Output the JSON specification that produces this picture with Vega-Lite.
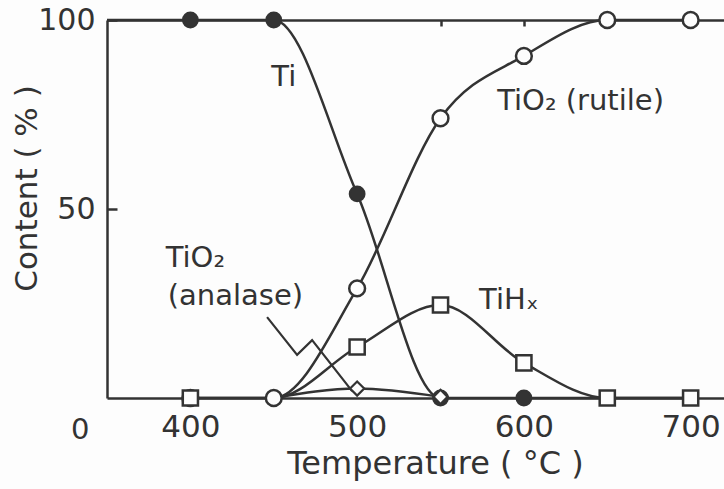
{
  "$schema": "https://vega.github.io/schema/vega-lite/v6.json",
  "autosize": "none",
  "width": 617,
  "height": 378,
  "padding": {"left": 107, "top": 20, "right": 0, "bottom": 91},
  "background": "#fdfdfd",
  "config": {
    "view": {"stroke": null},
    "axis": {"domainColor": "#333", "domainWidth": 2.5, "tickColor": "#333", "tickWidth": 2.5, "labelColor": "#333", "titleColor": "#333", "labelFont": "DejaVu Sans", "titleFont": "DejaVu Sans", "grid": false}
  },
  "resolve": {"axis": {"x": "independent"}},
  "datasets": {
    "series": [
      {"series": "Ti", "t": 350, "c": 100},
      {"series": "Ti", "t": 400, "c": 100},
      {"series": "Ti", "t": 450, "c": 100},
      {"series": "Ti", "t": 500, "c": 54},
      {"series": "Ti", "t": 550, "c": 0},
      {"series": "Ti", "t": 600, "c": 0},
      {"series": "Ti", "t": 650, "c": 0},
      {"series": "Ti", "t": 700, "c": 0},
      {"series": "rutile", "t": 400, "c": 0},
      {"series": "rutile", "t": 450, "c": 0},
      {"series": "rutile", "t": 500, "c": 29},
      {"series": "rutile", "t": 550, "c": 74},
      {"series": "rutile", "t": 600, "c": 90.5},
      {"series": "rutile", "t": 650, "c": 100},
      {"series": "rutile", "t": 700, "c": 100},
      {"series": "TiHx", "t": 400, "c": 0},
      {"series": "TiHx", "t": 450, "c": 0},
      {"series": "TiHx", "t": 500, "c": 13.5},
      {"series": "TiHx", "t": 550, "c": 24.6},
      {"series": "TiHx", "t": 600, "c": 9.3},
      {"series": "TiHx", "t": 650, "c": 0},
      {"series": "TiHx", "t": 700, "c": 0},
      {"series": "anatase", "t": 450, "c": 0},
      {"series": "anatase", "t": 500, "c": 2.5},
      {"series": "anatase", "t": 550, "c": 0.3}
    ],
    "pointer": [
      {"t": 446, "c": 21.4, "o": 1},
      {"t": 464, "c": 11.4, "o": 2},
      {"t": 473, "c": 15.3, "o": 3},
      {"t": 497, "c": 1.8, "o": 4}
    ],
    "labels": [
      {"text": "Ti", "t": 456, "c": 85},
      {"text": "TiO₂ (rutile)", "t": 634, "c": 78.5},
      {"text": "TiHₓ", "t": 591, "c": 26},
      {"text": "TiO₂", "t": 403, "c": 37},
      {"text": "(analase)", "t": 427, "c": 27},
      {"text": "0", "t": 334, "c": -8.5}
    ]
  },
  "layer": [
    {
      "data": {"name": "series"},
      "mark": {"type": "line", "interpolate": "monotone", "color": "#333", "strokeWidth": 2.5},
      "encoding": {
        "x": {"field": "t", "type": "quantitative", "scale": {"domain": [350, 720], "nice": false, "zero": false},
          "axis": {"orient": "bottom", "values": [400, 500, 600, 700], "ticks": false, "labelFontSize": 31, "labelPadding": 14, "title": "Temperature ( °C )", "titleFontSize": 32, "titleFontWeight": "normal", "titlePadding": 6, "titleX": 328}},
        "y": {"field": "c", "type": "quantitative", "scale": {"domain": [0, 100], "nice": false},
          "axis": {"values": [50, 100], "tickSize": -10, "labelFontSize": 30, "labelPadding": 22, "title": "Content ( % )", "titleFontSize": 31, "titleFontWeight": "normal", "titlePadding": -6, "titleY": 168}},
        "detail": {"field": "series"}
      }
    },
    {
      "data": {"name": "pointer"},
      "mark": {"type": "line", "color": "#333", "strokeWidth": 2.2},
      "encoding": {
        "x": {"field": "t", "type": "quantitative", "axis": null},
        "y": {"field": "c", "type": "quantitative"},
        "order": {"field": "o"}
      }
    },
    {
      "data": {"name": "series"},
      "transform": [{"filter": "datum.series === 'rutile'"}],
      "mark": {"type": "point", "shape": "circle", "filled": true, "fill": "#fdfdfd", "stroke": "#333", "strokeWidth": 2.5, "size": 250, "opacity": 1},
      "encoding": {"x": {"field": "t", "type": "quantitative", "axis": null}, "y": {"field": "c", "type": "quantitative"}}
    },
    {
      "data": {"name": "series"},
      "transform": [{"filter": "datum.series === 'TiHx' && datum.t !== 450"}],
      "mark": {"type": "point", "shape": "square", "filled": true, "fill": "#fdfdfd", "stroke": "#333", "strokeWidth": 2.5, "size": 230, "opacity": 1},
      "encoding": {"x": {"field": "t", "type": "quantitative", "axis": null}, "y": {"field": "c", "type": "quantitative"}}
    },
    {
      "data": {"name": "series"},
      "transform": [{"filter": "datum.series === 'Ti' && datum.t >= 400 && datum.t <= 600"}],
      "mark": {"type": "point", "shape": "circle", "filled": true, "fill": "#333", "stroke": "#333", "size": 220, "opacity": 1},
      "encoding": {"x": {"field": "t", "type": "quantitative", "axis": null}, "y": {"field": "c", "type": "quantitative"}}
    },
    {
      "data": {"name": "series"},
      "transform": [{"filter": "datum.series === 'anatase' && datum.t !== 450"}],
      "mark": {"type": "point", "shape": "diamond", "filled": true, "fill": "#fdfdfd", "stroke": "#333", "strokeWidth": 2.2, "size": 200, "opacity": 1},
      "encoding": {"x": {"field": "t", "type": "quantitative", "axis": null}, "y": {"field": "c", "type": "quantitative"}}
    },
    {
      "data": {"name": "labels"},
      "mark": {"type": "text", "font": "DejaVu Sans", "fontSize": 29, "color": "#333", "baseline": "middle", "align": "center"},
      "encoding": {
        "x": {"field": "t", "type": "quantitative", "axis": null},
        "y": {"field": "c", "type": "quantitative"},
        "text": {"field": "text"}
      }
    },
    {
      "data": {"values": [{"t": 550}, {"t": 600}]},
      "mark": {"type": "tick", "opacity": 0},
      "encoding": {
        "x": {"field": "t", "type": "quantitative", "axis": {"orient": "top", "values": [550, 600], "tickSize": -6, "labels": false, "title": null}}
      }
    }
  ]
}
